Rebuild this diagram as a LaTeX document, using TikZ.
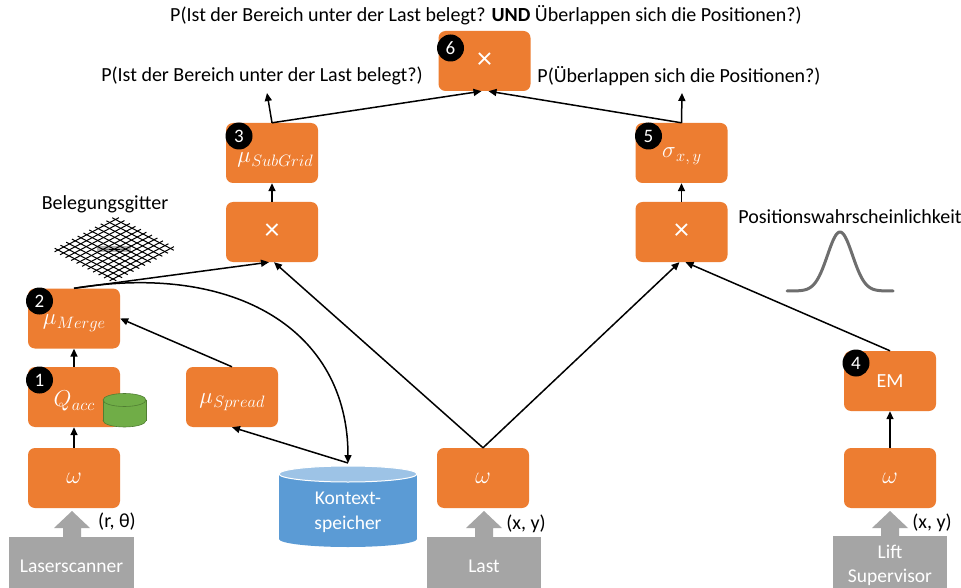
\documentclass[tikz,border=0pt]{standalone}
\usepackage{fix-cm}
\usepackage{fontspec}
\setmainfont{Carlito}
\usetikzlibrary{arrows.meta}
\definecolor{orng}{HTML}{ED7D31}
\definecolor{grayb}{HTML}{A5A5A5}
\definecolor{kblue}{HTML}{5B9BD5}
\definecolor{kbluetop}{HTML}{9DC3E6}
\definecolor{gfill}{HTML}{70AD47}
\definecolor{gdraw}{HTML}{507E32}
\definecolor{curvegray}{HTML}{6E6E6E}
% block symbol with a large subscript; #1 moves its baseline relative to the block centre
\newcommand{\blocksub}[3]{\raisebox{#1}[0pt][0pt]{{\fontsize{23}{26}\selectfont$#2$}\kern0.5pt\raisebox{-4pt}{\fontsize{16.5}{18}\selectfont$#3$}}}
\newcommand{\blockmath}[1]{{\fontsize{24}{28}\selectfont$#1$}}
\newcommand{\blocktimes}{{\fontsize{30}{30}\selectfont ×}}

\begin{document}
\begin{tikzpicture}[x=1pt,y=-1pt,
  proc/.style={fill=orng, rounded corners=7pt, minimum width=92pt, minimum height=60pt,
    text=white, font=\fontsize{20}{24}\selectfont, inner sep=0pt},
  badge/.style={circle, fill=black, minimum size=27pt, inner sep=0pt, text=white,
    font=\fontsize{19}{22}\selectfont},
  src/.style={fill=grayb, text=white, font=\fontsize{19.5}{24}\selectfont, align=center, inner sep=0pt},
  lbl/.style={font=\fontsize{20}{24}\selectfont, inner sep=0pt},
  conn/.style={line width=1.5pt, -{Triangle[length=8pt,width=7pt]}},
  uparrow/.pic={\fill[grayb] (-9,27) -- (-9,17) -- (-18,17) -- (0,0) -- (18,17) -- (9,17) -- (9,27) -- cycle;}
]
\clip (0,0) rectangle (961,588);
\fill[white] (0,0) rectangle (961,588);

% processing blocks
\node[proc] (w1) at (74,478) {\blockmath{\omega}};
\node[proc] (qacc) at (74,397) {\blocksub{-9pt}{Q}{acc}};
\node[proc] (merge) at (74,318.5) {\blocksub{-6pt}{\mu}{Merge}};
\node[proc] (spread) at (232,397) {\blocksub{-6pt}{\mu}{Spread}};
\node[proc] (mul1) at (272,232) {\blocktimes};
\node[proc] (subgrid) at (272,153) {\hspace*{6pt}\blocksub{-10pt}{\mu}{SubGrid}};
\node[proc] (mul3) at (484.5,61) {\blocktimes};
\node[proc] (sigma) at (681.5,153) {\blocksub{-5pt}{\sigma}{x,y}};
\node[proc] (mul2) at (681.5,232) {\blocktimes};
\node[proc] (em) at (890,381) {EM};
\node[proc] (w3) at (890,478) {\blockmath{\omega}};
\node[proc] (w2) at (483,478) {\blockmath{\omega}};

% small storage drum next to Q_acc
\filldraw[fill=gfill, draw=gdraw, line width=0.6pt] (124.5,420.5) ellipse (21.5pt and 6.5pt);
\fill[gfill] (103,400) rectangle (146,420.5);
\draw[gdraw, line width=0.6pt] (103,400) -- (103,420.5) (146,400) -- (146,420.5);
\filldraw[fill=gfill, draw=gdraw, line width=0.6pt] (124.5,400) ellipse (21.5pt and 6.5pt);

% context store
\fill[kblue] (348,539) ellipse (69pt and 8pt);
\fill[kblue] (279,474) rectangle (417,539);
\filldraw[fill=kbluetop, draw=white, line width=1pt] (348,474) ellipse (69pt and 8pt);
\node[text=white, font=\fontsize{19.5}{25}\selectfont, align=center, inner sep=0pt] (ks) at (348,512) {Kontext-\\speicher};
\coordinate (kstop) at (348,463);

% numbered badges
\node[badge] (b1) at (39.5,380) {1};
\node[badge] (b2) at (39.5,301) {2};
\node[badge] (b3) at (239,136) {3};
\node[badge] (b4) at (856,363) {4};
\node[badge] (b5) at (648.5,136) {5};
\node[badge] (b6) at (450.5,48) {6};

% input sources
\node[src, minimum width=125pt, minimum height=58pt] (laser) at (71.5,566) {Laserscanner};
\node[src, minimum width=114pt, minimum height=58pt] (last) at (484,566) {Last};
\node[src, minimum width=114pt, minimum height=58pt] (lift) at (890,565) {Lift\\Supervisor};
\path (72,511) pic {uparrow};
\path (484,511) pic {uparrow};
\path (890,511) pic {uparrow};

% labels
\node[lbl] (ttl) at (486,15) {P(Ist der Bereich unter der Last belegt? \textbf{UND} Überlappen sich die Positionen?)};
\node[lbl] (p1) at (262,76) {P(Ist der Bereich unter der Last belegt?)};
\node[lbl] (p2) at (679,76) {P(Überlappen sich die Positionen?)};
\node[lbl] (bg) at (105,204) {Belegungsgitter};
\node[lbl] (pw) at (850,217) {Positionswahrscheinlichkeit};
\node[lbl] (rt) at (117,522) {(r, θ)};
\node[lbl] (xy1) at (526,524) {(x, y)};
\node[lbl] (xy2) at (932,523) {(x, y)};
\coordinate (t1) at (267,93);
\coordinate (t2) at (682,93);

% occupancy grid
\begin{scope}[shift={(58,250)}, x={(5.75pt,3.05pt)}, y={(5.5pt,-2.9pt)}]
  \fill[gray!60] (3,4) rectangle (7,6);
  \fill[gray!60] (4,3) rectangle (6,7);
  \fill[gray!90!black] (4,4) rectangle (6,6);
  \fill[black] (4.5,4.5) rectangle (5.5,5.5);
  \foreach \i in {0,...,10} {
    \draw[line width=1pt] (\i,-0.6) -- (\i,10.6);
    \draw[line width=1pt] (-0.6,\i) -- (10.6,\i);
  }
\end{scope}

% position probability curve
\draw[curvegray, line width=3pt, line cap=round] plot[domain=-53:53, samples=90, smooth]
  ({840+\x}, {291-59*exp(-((\x/12.5)^2)/2)});

% connectors
\draw[conn] (w1) -- (qacc);
\draw[conn] (qacc) -- (merge);
\draw[conn] (spread.north) -- (merge.east);
\draw[conn] (kstop) -- (spread.south);
\draw[conn] (merge.north) -- ([xshift=-3pt]mul1.south);
\draw[conn] (merge.north) .. controls (235,262) and (348,330) .. (kstop);
\draw[conn] (w2.north) -- ([xshift=2pt]mul1.south);
\draw[conn] (w2.north) -- ([xshift=-2pt]mul2.south);
\draw[conn] (em.north) -- ([xshift=4pt]mul2.south);
\draw[conn] (w3) -- (em);
\draw[conn] (mul1) -- (subgrid);
\draw[conn] (mul2) -- (sigma);
\draw[conn] (subgrid.north) -- (t1);
\draw[conn] (subgrid.north) -- ([xshift=-3pt]mul3.south);
\draw[conn] (sigma.north) -- (t2);
\draw[conn] (sigma.north) -- ([xshift=4pt]mul3.south);
\end{tikzpicture}
\end{document}
